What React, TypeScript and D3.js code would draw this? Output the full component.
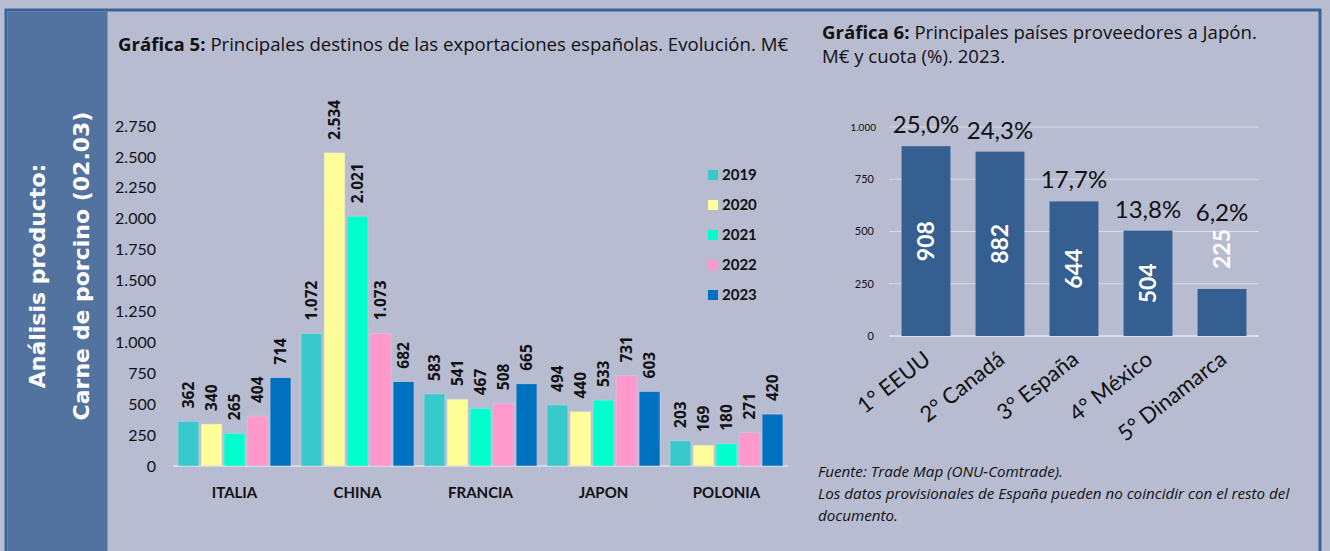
import React from "react";
import { scaleBand, scaleLinear, range } from "d3";

// Gráfica 5 data
const destinos = ["ITALIA", "CHINA", "FRANCIA", "JAPON", "POLONIA"];
const years = ["2019", "2020", "2021", "2022", "2023"];
const v2019 = [362, 1072, 583, 494, 203];
const v2020 = [340, 2534, 541, 440, 169];
const v2021 = [265, 2021, 467, 533, 180];
const v2022 = [404, 1073, 508, 731, 271];
const v2023 = [714, 682, 665, 603, 420];
const ticks5 = range(0, 2751, 250);

// Gráfica 6 data
const proveedores = ["1° EEUU", "2° Canadá", "3° España", "4° México", "5° Dinamarca"];
const valores6 = [908, 882, 644, 504, 225];
const cuotas6 = ["25,0%", "24,3%", "17,7%", "13,8%", "6,2%"];
const ticks6 = [0, 250, 500, 750, 1000];

const yearColors = ["#38cacb", "#ffff99", "#00ffcc", "#ff99cc", "#0070c0"];
const fmt = (n: number) => n.toLocaleString("de-DE");
const FONT = "Lato, 'Open Sans', sans-serif";
const TFONT = "'Open Sans', Lato, sans-serif";

function Chart5() {
  const series = [v2019, v2020, v2021, v2022, v2023];
  const x0 = scaleBand().domain(destinos).range([173, 788]);
  const x1 = scaleBand().domain(years).range([5, x0.bandwidth() - 5]).paddingInner(0.09);
  const y = scaleLinear().domain([0, 2750]).range([466, 126]);

  return (
    <g>
      <text x={118} y={51} fontSize={18.6} fill="#111" fontFamily={TFONT}>
        <tspan fontWeight="bold">Gráfica 5:</tspan> Principales destinos de las exportaciones españolas. Evolución. M€
      </text>
      {/* y ticks */}
      {ticks5.map((t) => (
        <text key={t} x={156} y={y(t)} dy="0.35em" textAnchor="end" fontSize={16} fill="#111" fontFamily={FONT}>
          {fmt(t)}
        </text>
      ))}
      <line x1={173} x2={788} y1={y(0)} y2={y(0)} stroke="#d8dae4" strokeWidth={2} />
      {destinos.map((d, i) => (
        <g key={d} transform={`translate(${x0(d)},0)`}>
          {series.map((s, j) => {
            const bx = x1(years[j])!;
            return (
              <g key={j}>
                <rect x={bx} y={y(s[i])} width={x1.bandwidth()} height={y(0) - y(s[i])} fill={yearColors[j]} stroke="#c9cde0" strokeWidth={0.6} />
                <text
                  transform={`translate(${bx + x1.bandwidth() / 2},${y(s[i]) - 13}) rotate(-90)`}
                  dy="0.35em"
                  fontSize={15.5}
                  fontWeight="bold"
                  fill="#111"
                  fontFamily={TFONT}
                >
                  {fmt(s[i])}
                </text>
              </g>
            );
          })}
          <text x={x0.bandwidth() / 2} y={498} textAnchor="middle" fontSize={15} fontWeight="bold" fill="#111" fontFamily={FONT}>
            {d}
          </text>
        </g>
      ))}
      {/* legend */}
      {years.map((yr, j) => (
        <g key={yr} transform={`translate(708,${175 + j * 30})`}>
          <rect x={0} y={-5} width={10} height={10} fill={yearColors[j]} />
          <text x={14} y={0} dy="0.35em" fontSize={15} fontWeight="bold" fill="#111" fontFamily={FONT}>
            {yr}
          </text>
        </g>
      ))}
    </g>
  );
}

function Chart6() {
  const x = scaleBand().domain(proveedores).range([889, 1259]).paddingInner(0.34).paddingOuter(0.17);
  const y = scaleLinear().domain([0, 1000]).range([336, 127]);

  return (
    <g>
      <text x={822} y={39} fontSize={18.6} fill="#111" fontFamily={TFONT}>
        <tspan fontWeight="bold">Gráfica 6:</tspan> Principales países proveedores a Japón.
      </text>
      <text x={822} y={63} fontSize={18.6} fill="#111" fontFamily={TFONT}>
        M€ y cuota (%). 2023.
      </text>
      {ticks6.map((t) => (
        <g key={t}>
          <line x1={889} x2={1259} y1={y(t)} y2={y(t)} stroke="#d8dae4" strokeWidth={t === 0 ? 2 : 1.2} />
          <text x={t === 1000 ? 876 : 874} y={y(t)} dy="0.35em" textAnchor="end" fontSize={t === 1000 ? 10 : 11} fill="#111" fontFamily={FONT}>
            {fmt(t)}
          </text>
        </g>
      ))}
      {proveedores.map((p, i) => {
        const v = valores6[i];
        const cx = x(p)! + x.bandwidth() / 2;
        const inside = v > 300;
        const labelMid = inside ? (y(v) + y(0)) / 2 : y(v) - 40;
        const pctY = inside ? y(v) - 13 : labelMid - 28;
        return (
          <g key={p}>
            <rect x={x(p)} y={y(v)} width={x.bandwidth()} height={y(0) - y(v)} fill="#365f91" />
            <text
              transform={`translate(${cx},${labelMid}) rotate(-90)`}
              dy="0.35em"
              textAnchor="middle"
              fontSize={23}
              fontWeight="bold"
              fill="#fff"
              fontFamily={FONT}
            >
              {v}
            </text>
            <text x={cx} y={pctY} textAnchor="middle" fontSize={24} fill="#111" fontFamily={FONT}>
              {cuotas6[i]}
            </text>
            <text
              transform={`translate(${cx + 6},${362}) rotate(-38)`}
              textAnchor="end"
              fontSize={22}
              fill="#111"
              fontFamily={FONT}
            >
              {p}
            </text>
          </g>
        );
      })}
      <g fontSize={15.2} fontStyle="italic" fill="#111" fontFamily={TFONT}>
        <text x={818} y={477}>Fuente: Trade Map (ONU-Comtrade).</text>
        <text x={818} y={499}>Los datos provisionales de España pueden no coincidir con el resto del</text>
        <text x={818} y={521}>documento.</text>
      </g>
    </g>
  );
}

export default function App() {
  const W = 1330;
  const H = 551;
  return (
    <svg width={W} height={H} style={{ position: "absolute", left: 0, top: 0 }}>
      <rect x={0} y={0} width={W} height={H} fill="#b8bdd2" />
      {/* frame */}
      <rect x={6} y={10} width={1314} height={H} fill="#b7bcd1" stroke="#3a6497" strokeWidth={3} />
      <rect x={7.5} y={11.5} width={100} height={H} fill="#52739f" />
      <g fill="#fff" fontWeight="bold" fontSize={22} fontFamily="'DejaVu Sans', sans-serif" textAnchor="middle">
        <text transform="translate(45,276) rotate(-90)">Análisis producto:</text>
        <text transform="translate(89,266) rotate(-90)">Carne de porcino (02.03)</text>
      </g>
      <Chart5 />
      <Chart6 />
    </svg>
  );
}
